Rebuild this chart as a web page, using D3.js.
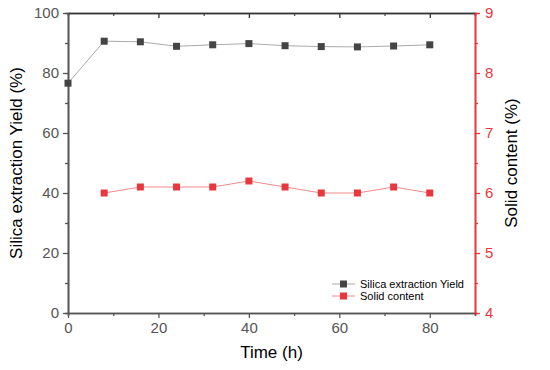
<!DOCTYPE html>
<html>
<head>
<meta charset="utf-8">
<script src="https://cdn.jsdelivr.net/npm/d3@7"></script>
<style>
  body { margin: 0; background: #fff; }
  svg { font-family: "Liberation Sans", Arial, sans-serif; }
</style>
</head>
<body>
<svg id="chart"></svg>
<script>
// data
const time = [0, 8, 16, 24, 32, 40, 48, 56, 64, 72, 80];
const yieldValues = [76.6, 90.6, 90.4, 88.9, 89.4, 89.8, 89.1, 88.8, 88.7, 89.0, 89.4];
const solidTime = [8, 16, 24, 32, 40, 48, 56, 64, 72, 80];
const solidValues = [6.0, 6.1, 6.1, 6.1, 6.2, 6.1, 6.0, 6.0, 6.1, 6.0];
const xTicks = [0, 20, 40, 60, 80];
const leftTicks = [0, 20, 40, 60, 80, 100];
const rightTicks = [4, 5, 6, 7, 8, 9];
const seriesNames = ["Silica extraction Yield", "Solid content"];

const width = 550, height = 370;
const marginLeft = 68, marginRight = 75, marginTop = 13, marginBottom = 57;
const red = "#e8383d";
const axisGrey = "#555";

const svg = d3.select("#chart")
    .attr("width", width)
    .attr("height", height)
    .attr("viewBox", [0, 0, width, height]);

const x = d3.scaleLinear([0, 90], [marginLeft, width - marginRight]);
const yL = d3.scaleLinear([0, 100], [height - marginBottom, marginTop]);
const yR = d3.scaleLinear([4, 9], [height - marginBottom, marginTop]);

// helper to style an axis group
function styleAxis(g, color, labelColor) {
  g.select(".domain").attr("stroke", color).attr("stroke-width", 1.6);
  g.selectAll(".tick line").attr("stroke", color).attr("stroke-width", 1.3);
  g.selectAll(".tick text").attr("fill", labelColor).style("font-size", "15px");
}

// minor ticks first (no labels)
svg.append("g")
    .attr("transform", `translate(0,${height - marginBottom})`)
    .call(d3.axisBottom(x).tickValues(d3.range(10, 91, 20)).tickSize(3).tickFormat(""))
    .call(g => styleAxis(g, axisGrey, axisGrey));
svg.append("g")
    .attr("transform", `translate(0,${marginTop})`)
    .call(d3.axisBottom(x).tickValues(d3.range(10, 91, 20)).tickSize(3).tickFormat(""))
    .call(g => styleAxis(g, axisGrey, axisGrey));
svg.append("g")
    .attr("transform", `translate(${marginLeft},0)`)
    .call(d3.axisLeft(yL).tickValues(d3.range(10, 100, 20)).tickSize(3).tickFormat(""))
    .call(g => styleAxis(g, axisGrey, axisGrey));
svg.append("g")
    .attr("transform", `translate(${width - marginRight},0)`)
    .call(d3.axisRight(yR).tickValues(d3.range(4.5, 9, 1)).tickSize(3).tickFormat(""))
    .call(g => styleAxis(g, red, red));

// major axes
svg.append("g")
    .attr("transform", `translate(0,${height - marginBottom})`)
    .call(d3.axisBottom(x).tickValues(xTicks).tickSize(5).tickPadding(4).tickSizeOuter(0))
    .call(g => styleAxis(g, axisGrey, axisGrey));
svg.append("g")
    .attr("transform", `translate(0,${marginTop})`)
    .call(d3.axisBottom(x).tickValues(d3.range(20, 91, 20)).tickSize(5).tickFormat("").tickSizeOuter(0))
    .call(g => styleAxis(g, "#333", axisGrey));
svg.append("g")
    .attr("transform", `translate(${marginLeft},0)`)
    .call(d3.axisLeft(yL).tickValues(leftTicks).tickSize(5).tickPadding(4).tickSizeOuter(0))
    .call(g => styleAxis(g, axisGrey, axisGrey));
svg.append("g")
    .attr("transform", `translate(${width - marginRight},0)`)
    .call(d3.axisRight(yR).tickValues(rightTicks).tickFormat(d3.format("d"))
        .tickSize(5).tickPadding(5).tickSizeOuter(0))
    .call(g => styleAxis(g, red, red));

// series
const yieldData = time.map((t, i) => ({t, v: yieldValues[i]}));
const solidData = solidTime.map((t, i) => ({t, v: solidValues[i]}));

svg.append("path")
    .datum(yieldData)
    .attr("fill", "none")
    .attr("stroke", "#aaa")
    .attr("stroke-width", 1)
    .attr("d", d3.line().x(d => x(d.t)).y(d => yL(d.v)));
svg.append("path")
    .datum(solidData)
    .attr("fill", "none")
    .attr("stroke", "#f08a8c")
    .attr("stroke-width", 1)
    .attr("d", d3.line().x(d => x(d.t)).y(d => yR(d.v)));

const ms = 7;
svg.append("g").selectAll("rect")
    .data(yieldData)
    .join("rect")
    .attr("x", d => x(d.t) - ms / 2)
    .attr("y", d => yL(d.v) - ms / 2)
    .attr("width", ms).attr("height", ms)
    .attr("fill", "#444");
svg.append("g").selectAll("rect")
    .data(solidData)
    .join("rect")
    .attr("x", d => x(d.t) - ms / 2)
    .attr("y", d => yR(d.v) - ms / 2)
    .attr("width", ms).attr("height", ms)
    .attr("fill", red);

// axis titles
svg.append("text")
    .attr("transform", `translate(22,${(marginTop + height - marginBottom) / 2}) rotate(-90)`)
    .attr("text-anchor", "middle")
    .style("font-size", "17px")
    .text("Silica extraction Yield (%)");
svg.append("text")
    .attr("transform", `translate(517,${(marginTop + height - marginBottom) / 2}) rotate(-90)`)
    .attr("text-anchor", "middle")
    .style("font-size", "17px")
    .text("Solid content (%)");
svg.append("text")
    .attr("x", (marginLeft + width - marginRight) / 2)
    .attr("y", 358)
    .attr("text-anchor", "middle")
    .style("font-size", "17px")
    .text("Time (h)");

// legend
const legend = svg.append("g").attr("transform", "translate(332,284)");
const legendColors = [["#aaa", "#444"], ["#f08a8c", red]];
seriesNames.forEach((name, i) => {
  const row = legend.append("g").attr("transform", `translate(0,${i * 12})`);
  row.append("line").attr("x1", 0).attr("x2", 23).attr("stroke", legendColors[i][0]);
  row.append("rect").attr("x", 8).attr("y", -3.5).attr("width", 7).attr("height", 7)
      .attr("fill", legendColors[i][1]);
  row.append("text").attr("x", 28).attr("y", 4).style("font-size", "11px").text(name);
});
</script>
</body>
</html>
